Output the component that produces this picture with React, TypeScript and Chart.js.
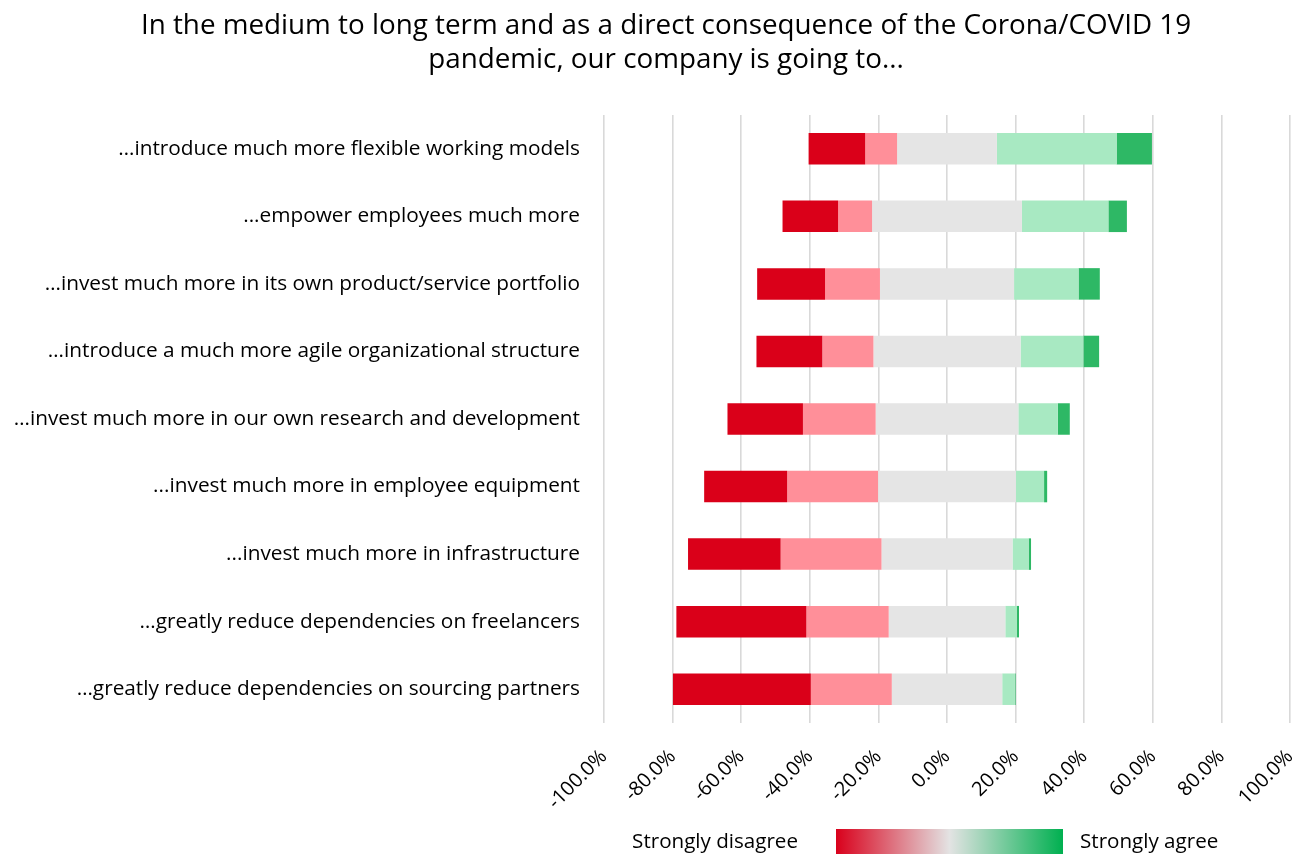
import { useEffect, useRef } from "react";
import { Chart, registerables } from "chart.js";

Chart.register(...registerables);

const titleLines = [
  "In the medium to long term and as a direct consequence of the Corona/COVID 19",
  "pandemic, our company is going to...",
];

const categories = [
  "…introduce much more flexible working models",
  "...empower employees much more",
  "…invest much more in its own product/service portfolio",
  "…introduce a much more agile organizational structure",
  "…invest much more in our own research and development",
  "...invest much more in employee equipment",
  "...invest much more in infrastructure",
  "…greatly reduce dependencies on freelancers",
  "…greatly reduce dependencies on sourcing partners",
];

const stronglyDisagree = [16.5, 16.2, 19.8, 19.2, 22.0, 24.2, 27.0, 37.9, 40.2];
const disagree = [9.3, 9.9, 16.0, 14.9, 21.2, 26.5, 29.4, 24.0, 23.6];
const neutral = [29.1, 43.7, 39.1, 42.9, 41.6, 40.2, 38.2, 34.0, 32.2];
const agree = [34.9, 25.2, 18.8, 18.3, 11.5, 8.2, 4.7, 3.4, 3.7];
const stronglyAgree = [10.3, 5.4, 6.2, 4.6, 3.5, 0.9, 0.7, 0.6, 0.2];

const xTickValues = [-100, -80, -60, -40, -20, 0, 20, 40, 60, 80, 100];

const seriesNames = ["Strongly disagree", "Disagree", "Neutral", "Agree", "Strongly agree"];
const seriesColors = ["#DA0019", "#FF8F99", "#E5E5E5", "#A8E9C2", "#2EB865"];
const legendLabels = ["Strongly disagree", "Strongly agree"];

const FONT = "'Open Sans', sans-serif";

function buildDatasets() {
  const series = [stronglyDisagree, disagree, neutral, agree, stronglyAgree];
  const starts = categories.map(
    (_, i) => -(stronglyDisagree[i] + disagree[i] + neutral[i] / 2)
  );
  return series.map((vals, s) => {
    const data = vals.map((v, i) => {
      let start = starts[i];
      for (let k = 0; k < s; k++) start += series[k][i];
      return [start, start + v];
    });
    return {
      label: seriesNames[s],
      data,
      backgroundColor: seriesColors[s],
      borderWidth: 0,
      grouped: false,
      barPercentage: 0.466,
      categoryPercentage: 1,
    };
  });
}

const decorPlugin = {
  id: "decor",
  afterDraw(chart: any) {
    const ctx = chart.ctx as CanvasRenderingContext2D;
    ctx.save();
    ctx.fillStyle = "#000";
    ctx.textAlign = "center";
    ctx.textBaseline = "alphabetic";
    ctx.font = `27.8px ${FONT}`;
    ctx.fillText(titleLines[0], 666, 34);
    ctx.fillText(titleLines[1], 666, 68);

    // gradient legend
    const gx = 836, gy = 829, gw = 227, gh = 25;
    const grad = ctx.createLinearGradient(gx, 0, gx + gw, 0);
    grad.addColorStop(0, "#D9001B");
    grad.addColorStop(0.5, "#E3E3E3");
    grad.addColorStop(1, "#00B050");
    ctx.fillStyle = grad;
    ctx.fillRect(gx, gy, gw, gh);

    ctx.fillStyle = "#000";
    ctx.font = `20.6px ${FONT}`;
    ctx.textAlign = "right";
    ctx.fillText(legendLabels[0], 798, 848);
    ctx.textAlign = "left";
    ctx.fillText(legendLabels[1], 1080, 848);
    ctx.restore();
  },
};

export default function App() {
  const ref = useRef<HTMLCanvasElement>(null);

  useEffect(() => {
    if (!ref.current) return;
    const chart = new Chart(ref.current, {
      type: "bar",
      data: { labels: categories, datasets: buildDatasets() as any },
      plugins: [decorPlugin],
      options: {
        animation: false,
        responsive: false,
        indexAxis: "y",
        layout: { padding: { top: 115, right: 15, left: 0, bottom: 0 } },
        plugins: {
          legend: { display: false },
          title: { display: false },
          tooltip: { enabled: false },
        },
        scales: {
          x: {
            type: "linear",
            min: -100,
            max: 100,
            afterBuildTicks: (scale: any) => {
              scale.ticks = xTickValues.map((v) => ({ value: v }));
            },
            afterFit: (scale: any) => {
              scale.height = 131;
              scale.paddingLeft = 0;
              scale.paddingRight = 0;
            },
            grid: { color: "#D9D9D9", lineWidth: 1.6, drawTicks: false },
            border: { display: false },
            ticks: {
              minRotation: 45,
              maxRotation: 45,
              padding: 22,
              color: "#000",
              font: { family: FONT, size: 20 },
              callback: (v: any) => Number(v).toFixed(1) + "%",
            },
          },
          y: {
            afterFit: (scale: any) => {
              scale.width = 604;
            },
            grid: { display: false, drawTicks: false },
            border: { display: false },
            ticks: {
              padding: 24,
              color: "#000",
              font: { family: FONT, size: 20.8 },
            },
          },
        },
      },
    });
    return () => chart.destroy();
  }, []);

  return (
    <div style={{ position: "absolute", left: 0, top: 0, width: 1305, height: 854 }}>
      <canvas ref={ref} width={1305} height={854} style={{ display: "block" }} />
    </div>
  );
}
